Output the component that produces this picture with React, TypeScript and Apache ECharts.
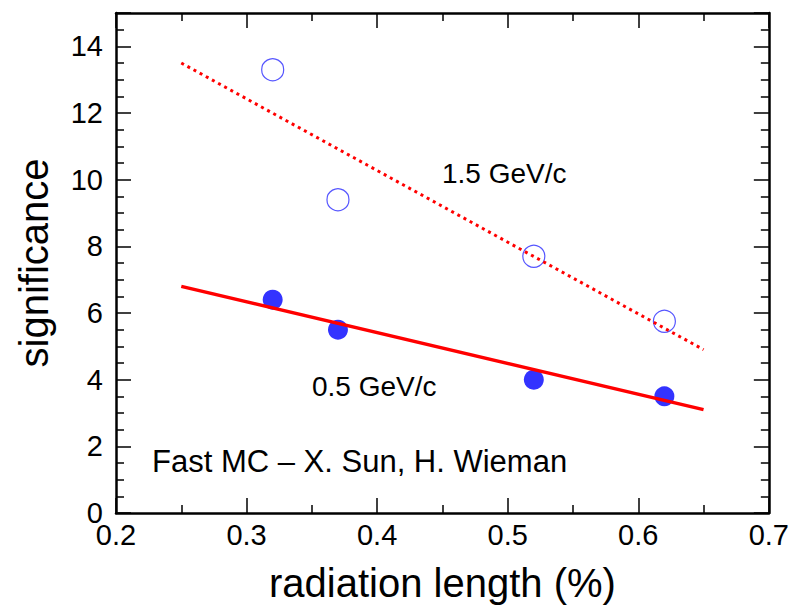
import React, { useEffect, useRef } from "react";
import * as echarts from "echarts";

const xTicks = { min: 0.2, max: 0.7, interval: 0.1 };
const yTicks = { min: 0, max: 15, interval: 2 };

const highMomentum: [number, number][] = [
  [0.32, 13.3],
  [0.37, 9.4],
  [0.52, 7.7],
  [0.62, 5.75],
];
const lowMomentum: [number, number][] = [
  [0.32, 6.4],
  [0.37, 5.5],
  [0.52, 4.0],
  [0.62, 3.5],
];
const highFit: [number, number][] = [
  [0.25, 13.5],
  [0.65, 4.9],
];
const lowFit: [number, number][] = [
  [0.25, 6.8],
  [0.65, 3.1],
];

const FONT = "Liberation Sans, Arial, sans-serif";

export default function App() {
  const ref = useRef<HTMLDivElement>(null);
  useEffect(() => {
    if (!ref.current) return;
    const chart = echarts.init(ref.current, null, { renderer: "svg" });
    const tickCommon = {
      axisLine: { show: true, onZero: false, lineStyle: { color: "#000", width: 2.5 } },
      axisTick: { show: true, inside: true, length: 15, lineStyle: { color: "#000", width: 1.5 } },
      minorTick: { show: true, splitNumber: 2, length: 8, lineStyle: { color: "#000", width: 1.5 } },
      splitLine: { show: false },
    };
    chart.setOption({
      animation: false,
      backgroundColor: "#fff",
      grid: { left: 116, top: 13, right: 23, bottom: 100, containLabel: false },
      xAxis: [
        {
          type: "value",
          min: xTicks.min,
          max: xTicks.max,
          interval: xTicks.interval,
          position: "bottom",
          ...tickCommon,
          axisLabel: {
            show: true,
            color: "#000",
            fontSize: 29,
            fontFamily: FONT,
            margin: 7,
            formatter: (v: number) => String(Math.round(v * 10) / 10),
          },
          name: "radiation length (%)",
          nameLocation: "middle",
          nameGap: 50,
          nameTextStyle: { color: "#000", fontSize: 40, fontFamily: FONT },
        },
        {
          type: "value",
          min: xTicks.min,
          max: xTicks.max,
          interval: xTicks.interval,
          position: "top",
          ...tickCommon,
          axisLabel: { show: false },
        },
      ],
      yAxis: [
        {
          type: "value",
          min: yTicks.min,
          max: yTicks.max,
          interval: yTicks.interval,
          position: "left",
          ...tickCommon,
          minorTick: { ...tickCommon.minorTick, splitNumber: 4 },
          axisLabel: {
            show: true,
            color: "#000",
            fontSize: 29,
            fontFamily: FONT,
            margin: 13,
            showMaxLabel: false,
          },
          name: "significance",
          nameLocation: "middle",
          nameGap: 62,
          nameTextStyle: { color: "#000", fontSize: 40, fontFamily: FONT },
        },
        {
          type: "value",
          min: yTicks.min,
          max: yTicks.max,
          interval: yTicks.interval,
          position: "right",
          ...tickCommon,
          minorTick: { ...tickCommon.minorTick, splitNumber: 4 },
          axisLabel: { show: false },
        },
      ],
      series: [
        {
          type: "scatter",
          data: highMomentum,
          symbol: "circle",
          symbolSize: 22,
          itemStyle: { color: "rgba(0,0,0,0)", borderColor: "#2a2aff", borderWidth: 1.2 },
          z: 2,
        },
        {
          type: "scatter",
          data: lowMomentum,
          symbol: "circle",
          symbolSize: 20,
          itemStyle: { color: "#0000ff" },
          z: 2,
        },
        {
          type: "line",
          data: highFit,
          showSymbol: false,
          lineStyle: { color: "#ff0000", width: 3, type: [3, 4] },
          z: 3,
        },
        {
          type: "line",
          data: lowFit,
          showSymbol: false,
          lineStyle: { color: "#ff0000", width: 3.5, type: "solid" },
          z: 3,
        },
      ],
      graphic: [
        {
          type: "text",
          left: 442,
          top: 159,
          style: { text: "1.5 GeV/c", fill: "#000", fontSize: 28, fontFamily: FONT },
        },
        {
          type: "text",
          left: 312,
          top: 372,
          style: { text: "0.5 GeV/c", fill: "#000", fontSize: 28, fontFamily: FONT },
        },
        {
          type: "text",
          left: 152,
          top: 446,
          style: { text: "Fast MC \u2013 X. Sun, H. Wieman", fill: "#000", fontSize: 31, fontFamily: FONT },
        },
      ],
    });
    return () => chart.dispose();
  }, []);
  return <div ref={ref} style={{ width: 792, height: 613, position: "absolute", left: 0, top: 0 }} />;
}
